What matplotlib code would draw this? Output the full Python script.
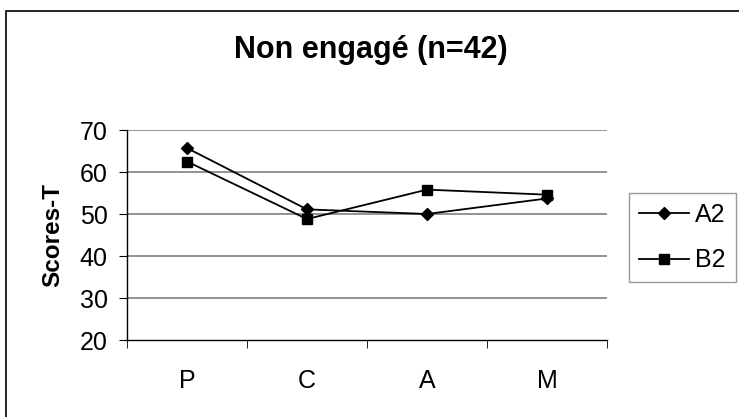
import matplotlib
matplotlib.use("Agg")
import matplotlib.pyplot as plt
from matplotlib.patches import Rectangle

categories = ["P", "C", "A", "M"]
a2 = [65.7, 51.1, 50.0, 53.7]
b2 = [62.5, 48.8, 55.8, 54.6]

plt.rcParams['font.family'] = ['Liberation Sans', 'DejaVu Sans']

fig = plt.figure(figsize=(7.39, 4.17), dpi=100)

# outer frame around the chart area
fig.patches.append(Rectangle((6 / 739, -0.1), 1.2, 1 - 11 / 417 + 0.1,
                             transform=fig.transFigure, fill=False,
                             edgecolor="black", linewidth=1.2))

ax = fig.add_axes([127 / 739, 1 - 340 / 417, 480 / 739, 210 / 417])
x = range(len(categories))
ax.plot(x, a2, color="black", lw=1.3, marker="D", ms=6.5, label="A2")
ax.plot(x, b2, color="black", lw=1.3, marker="s", ms=6.5, label="B2")

ax.set_xlim(-0.5, len(categories) - 0.5)
ax.set_ylim(20, 70)
ax.set_yticks(range(20, 71, 10))
ax.set_xticks(list(x))
ax.set_xticklabels(categories)
ax.set_xticks([i - 0.5 for i in range(len(categories) + 1)], minor=True)
ax.tick_params(axis="x", which="major", length=0, pad=21, labelsize=18)
ax.tick_params(axis="x", which="minor", length=5.5, direction="out")
ax.tick_params(axis="y", length=5.8, direction="out", labelsize=18, pad=8)
for v in range(30, 71, 10):
    ax.axhline(v, color="#808080", lw=1.2, zorder=0)
ax.spines["top"].set_visible(False)
ax.spines["right"].set_visible(False)
ax.spines["left"].set_linewidth(1.0)
ax.spines["bottom"].set_linewidth(1.0)

ax.set_ylabel("Scores-T", fontsize=17.5, fontweight="bold", labelpad=11)
fig.text(371 / 739, 1 - 50 / 417, "Non engagé (n=42)", ha="center", va="center",
         fontsize=22, fontweight="bold")

leg = ax.legend(loc="upper left", bbox_to_anchor=(629 / 739, 1 - 193 / 417),
                bbox_transform=fig.transFigure, fontsize=18, frameon=True,
                fancybox=False, edgecolor="#808080", handlelength=2.0,
                borderpad=0.4, borderaxespad=0, labelspacing=0.85,
                handletextpad=0.25)
leg.get_frame().set_linewidth(1.0)

fig.savefig("out.png", dpi=100)
